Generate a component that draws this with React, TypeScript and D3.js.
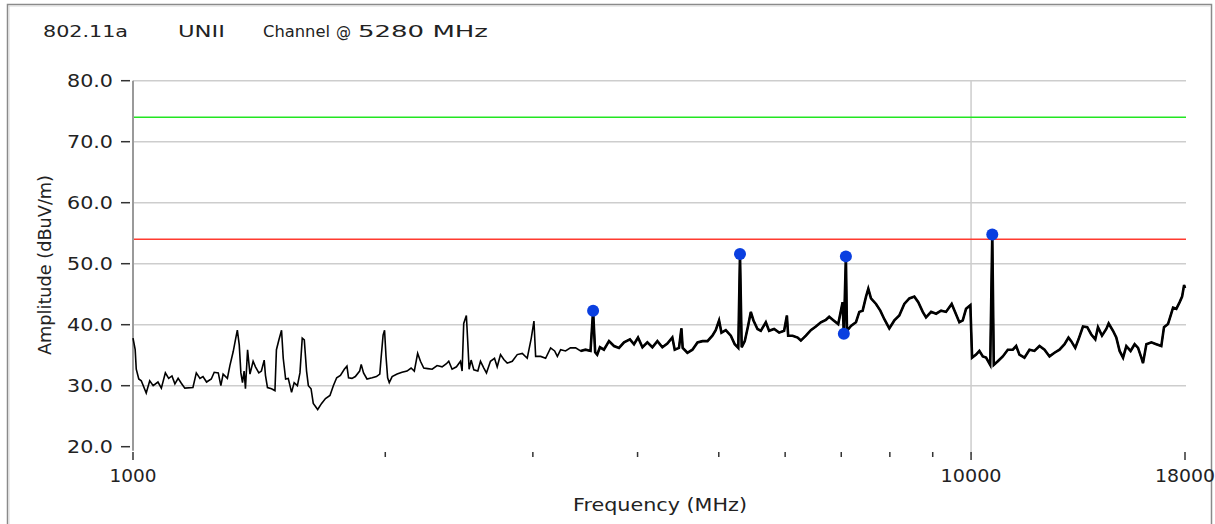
import React from "react";
import * as d3 from "d3";

// spectrum sweep (MHz, dBuV/m)
const traceFreq = [
  1000, 1006, 1009, 1016, 1023, 1037, 1047, 1057, 1071, 1081, 1093, 1103, 1113, 1122, 1132, 1142, 1153, 1179,
  1190, 1202, 1212, 1224, 1240, 1250, 1264, 1273, 1281, 1296, 1305, 1317, 1325, 1332, 1339, 1345, 1351, 1357,
  1362, 1370, 1379, 1391, 1400, 1413, 1423, 1434, 1439, 1447, 1463, 1477, 1483, 1493, 1504, 1511, 1521, 1532,
  1546, 1557, 1571, 1582, 1592, 1601, 1611, 1619, 1631, 1641, 1661, 1679, 1697, 1718, 1734, 1750, 1768, 1787,
  1800, 1808, 1825, 1842, 1864, 1872, 1884, 1902, 1929, 1952, 1970, 1977, 1988, 1996, 2004, 2013, 2022, 2038,
  2066, 2094, 2123, 2147, 2166, 2186, 2203, 2223, 2247, 2275, 2306, 2338, 2366, 2381, 2403, 2432, 2459, 2470,
  2481, 2499, 2509, 2518, 2532, 2551, 2579, 2598, 2622, 2641, 2670, 2700, 2720, 2745, 2770, 2796, 2835, 2874,
  2914, 2954, 2987, 3009, 3023, 3065, 3107, 3150, 3185, 3209, 3238, 3282, 3326, 3374, 3420, 3467, 3515, 3540,
  3560, 3580, 3607, 3647, 3698, 3749, 3801, 3854, 3917, 3961, 4005, 4054, 4109, 4166, 4224, 4282, 4341, 4401,
  4430, 4482, 4512, 4528, 4587, 4651, 4716, 4781, 4847, 4913, 4958, 5004, 5037, 5097, 5168, 5224, 5275, 5300,
  5325, 5370, 5419, 5460, 5500, 5561, 5612, 5690, 5741, 5821, 5902, 5983, 6029, 6050, 6124, 6209, 6265, 6352,
  6439, 6528, 6619, 6711, 6772, 6855, 6942, 7026, 7050, 7090, 7111, 7189, 7289, 7356, 7424, 7493, 7540, 7596,
  7702, 7793, 7880, 7988, 8099, 8210, 8324, 8440, 8557, 8650, 8757, 8836, 8960, 9084, 9210, 9335, 9482, 9570,
  9683, 9774, 9863, 9981, 10028, 10139, 10231, 10328, 10421, 10540, 10600, 10644, 10762, 10911, 11062, 11215,
  11319, 11421, 11580, 11741, 11903, 12068, 12236, 12405, 12576, 12751, 12928, 13069, 13167, 13314, 13435,
  13600, 13761, 13914, 14068, 14172, 14330, 14500, 14594, 14770, 14903, 15040, 15183, 15320, 15501, 15673,
  15822, 15965, 16039, 16187, 16412, 16634, 16866, 16991, 17179, 17303, 17419, 17576, 17738, 17857, 17956, 18000,
];
const traceAmp = [
  37.8, 35.9, 32.7, 31.1, 30.8, 28.8, 30.8, 30.0, 30.6, 29.6, 32.1, 31.2, 31.6, 30.3, 31.2, 30.4, 29.6, 29.7,
  32.1, 31.2, 31.5, 30.6, 31.1, 32.2, 32.1, 30.0, 31.9, 31.2, 33.3, 35.6, 37.5, 39.1, 36.7, 32.1, 30.5, 32.4,
  29.5, 35.9, 31.9, 34.0, 33.1, 32.1, 32.4, 34.2, 31.7, 29.7, 29.5, 29.2, 35.9, 37.5, 39.1, 34.5, 31.1, 31.2,
  28.9, 30.5, 30.0, 32.1, 37.8, 37.5, 32.4, 30.0, 29.5, 27.1, 26.1, 27.1, 27.9, 28.4, 30.0, 31.3, 31.7, 32.7,
  33.2, 31.3, 31.2, 31.5, 32.4, 33.5, 32.1, 31.1, 31.3, 31.5, 31.9, 34.5, 38.3, 39.1, 34.8, 31.3, 30.5, 31.5,
  31.9, 32.2, 32.4, 32.9, 32.4, 35.3, 34.0, 32.9, 32.8, 32.7, 33.3, 33.1, 33.6, 34.0, 32.7, 33.1, 34.0, 32.4,
  40.2, 41.5, 37.0, 32.7, 34.2, 32.6, 32.4, 34.0, 32.9, 32.1, 34.0, 34.5, 33.1, 35.1, 34.3, 33.7, 34.0, 35.1,
  35.3, 34.5, 37.8, 40.6, 34.8, 34.8, 34.5, 36.2, 35.7, 34.8, 35.9, 35.7, 36.2, 36.2, 35.7, 35.9, 35.7, 42.3,
  35.5, 35.1, 36.3, 35.9, 37.3, 36.5, 36.2, 37.1, 37.6, 36.8, 37.9, 36.3, 37.1, 36.3, 37.3, 36.3, 36.9, 37.9,
  35.9, 36.2, 39.4, 36.2, 35.4, 35.9, 37.1, 37.3, 37.3, 38.2, 39.1, 40.7, 38.7, 39.1, 38.2, 36.8, 36.2, 51.6,
  36.3, 37.3, 39.8, 42.1, 40.7, 39.3, 39.0, 40.4, 39.0, 39.3, 38.7, 39.0, 41.5, 38.2, 38.2, 37.9, 37.4, 38.2,
  39.1, 39.7, 40.4, 40.8, 41.3, 40.7, 40.1, 43.7, 38.5, 51.2, 39.0, 39.8, 40.4, 42.1, 42.3, 44.6, 45.9, 44.3,
  43.4, 42.3, 40.9, 39.4, 40.7, 41.5, 43.4, 44.3, 44.6, 43.7, 42.1, 41.2, 42.1, 41.8, 42.3, 42.1, 43.4, 42.1,
  40.4, 40.7, 42.6, 43.2, 34.6, 35.1, 35.7, 34.8, 34.6, 33.4, 54.8, 33.4, 34.0, 34.8, 35.9, 35.9,
  36.5, 35.1, 34.6, 35.9, 35.7, 36.5, 35.9, 34.8, 35.4, 35.9, 36.8, 37.9, 37.3, 36.2, 37.6,
  39.7, 39.6, 38.4, 37.6, 39.6, 38.2, 39.3, 40.2, 39.0, 37.9, 35.7, 34.6, 36.5, 35.7, 36.8,
  36.2, 34.6, 33.7, 36.8, 37.1, 36.8, 36.5, 39.6, 40.1, 41.5, 42.8, 42.6, 43.7, 44.6, 46.5, 46.0,
];

// peak markers
const markerFreq = [3540, 5300, 7090, 7050, 10600];
const markerAmp = [42.3, 51.6, 51.2, 38.5, 54.8];

// limit lines
const limitPeak = 74;
const limitAvg = 54;

const yTicks = [20, 30, 40, 50, 60, 70, 80];
const gridY = [30, 40, 50, 60, 70, 80];
const xMinor = [2000, 3000, 4000, 5000, 6000, 7000, 8000, 9000];
const xMajor = [1000, 10000, 18000];

const W = 1215;
const H = 524;
const font = "'DejaVu Sans', Tahoma, sans-serif";

export default function App() {
  const x = d3.scaleLog().domain([1000, 18000]).range([133, 1185]);
  const y = d3.scaleLinear().domain([20, 80]).range([446.7, 80.7]);

  const pts = traceFreq.map((f, i) => [f, traceAmp[i]] as [number, number]);
  const line = d3
    .line<[number, number]>()
    .x((d) => x(d[0]))
    .y((d) => y(d[1]));
  // the noisier upper band draws as a heavier trace
  const busy = pts.filter((d) => d[0] >= 3400);

  const xLabelLen: Record<number, number> = { 1000: 47, 10000: 61, 18000: 60 };
  const fit = "spacingAndGlyphs";

  return (
    <svg width={W} height={H} style={{ position: "absolute", left: 0, top: 0, background: "#fff" }}>
      {/* panel frame */}
      <rect x={7.5} y={4.5} width={1204} height={600} fill="#fff" stroke="#8a8a8a" strokeWidth={1.5} />
      <line x1={9} y1={6} x2={1210} y2={6} stroke="#d8d8d8" />
      <line x1={9} y1={6} x2={9} y2={524} stroke="#d8d8d8" />

      {/* title */}
      <g fontFamily={font} fontSize={16} fill="#222">
        <text x={43} y={37} textLength={85} lengthAdjust={fit}>802.11a</text>
        <text x={178} y={37} textLength={47} lengthAdjust={fit}>UNII</text>
        <text x={263} y={37} textLength={67} lengthAdjust={fit}>Channel</text>
        <text x={336} y={37} textLength={15} lengthAdjust={fit}>@</text>
        <text x={358} y={37} textLength={130} lengthAdjust={fit}>5280 MHz</text>
      </g>

      {/* grid */}
      {gridY.map((v) => (
        <line key={v} x1={133} x2={1186} y1={y(v)} y2={y(v)} stroke="#cdcdcd" strokeWidth={1.5} />
      ))}
      <line x1={x(10000)} x2={x(10000)} y1={y(80)} y2={y(20) + 8} stroke="#cdcdcd" strokeWidth={1.5} />

      {/* limit lines */}
      <line x1={133} x2={1186} y1={y(limitPeak)} y2={y(limitPeak)} stroke="#22e622" strokeWidth={1.6} />
      <line x1={133} x2={1186} y1={y(limitAvg)} y2={y(limitAvg)} stroke="#ff3b30" strokeWidth={1.6} />

      {/* y axis */}
      <line x1={133} x2={133} y1={y(80)} y2={y(20) + 4} stroke="#9a9a9a" strokeWidth={2} />
      <g fontFamily={font} fontSize={18} fill="#222">
        {yTicks.map((v) => (
          <g key={v}>
            <line x1={121} x2={130} y1={y(v)} y2={y(v)} stroke="#333" strokeWidth={1.5} />
            <text x={113} y={y(v) + 6.5} textAnchor="end" textLength={46} lengthAdjust={fit}>
              {v.toFixed(1)}
            </text>
          </g>
        ))}
        <text
          transform={`translate(51,${265}) rotate(-90)`}
          textAnchor="middle"
          fontSize={17}
          textLength={180}
          lengthAdjust={fit}
        >
          Amplitude (dBuV/m)
        </text>
      </g>

      {/* x axis ticks */}
      {xMinor.map((v) => (
        <line key={v} x1={x(v)} x2={x(v)} y1={452} y2={457} stroke="#333" strokeWidth={1.5} />
      ))}
      {xMajor.map((v) => (
        <line key={v} x1={x(v)} x2={x(v)} y1={452} y2={460} stroke="#333" strokeWidth={1.5} />
      ))}
      <g fontFamily={font} fontSize={17} fill="#222">
        {xMajor.map((v) => (
          <text key={v} x={x(v)} y={482} textAnchor="middle" textLength={xLabelLen[v]} lengthAdjust={fit}>
            {v}
          </text>
        ))}
        <text x={660} y={511} textAnchor="middle" fontSize={18} textLength={174} lengthAdjust={fit}>
          Frequency (MHz)
        </text>
      </g>

      {/* trace */}
      <path d={line(pts) ?? ""} fill="none" stroke="#000" strokeWidth={1.6} />
      <path d={line(busy) ?? ""} fill="none" stroke="#000" strokeWidth={2.6} />

      {/* markers */}
      {markerFreq.map((f, i) => (
        <circle key={i} cx={x(f)} cy={y(markerAmp[i])} r={6} fill="#0a3fe0" />
      ))}
    </svg>
  );
}
